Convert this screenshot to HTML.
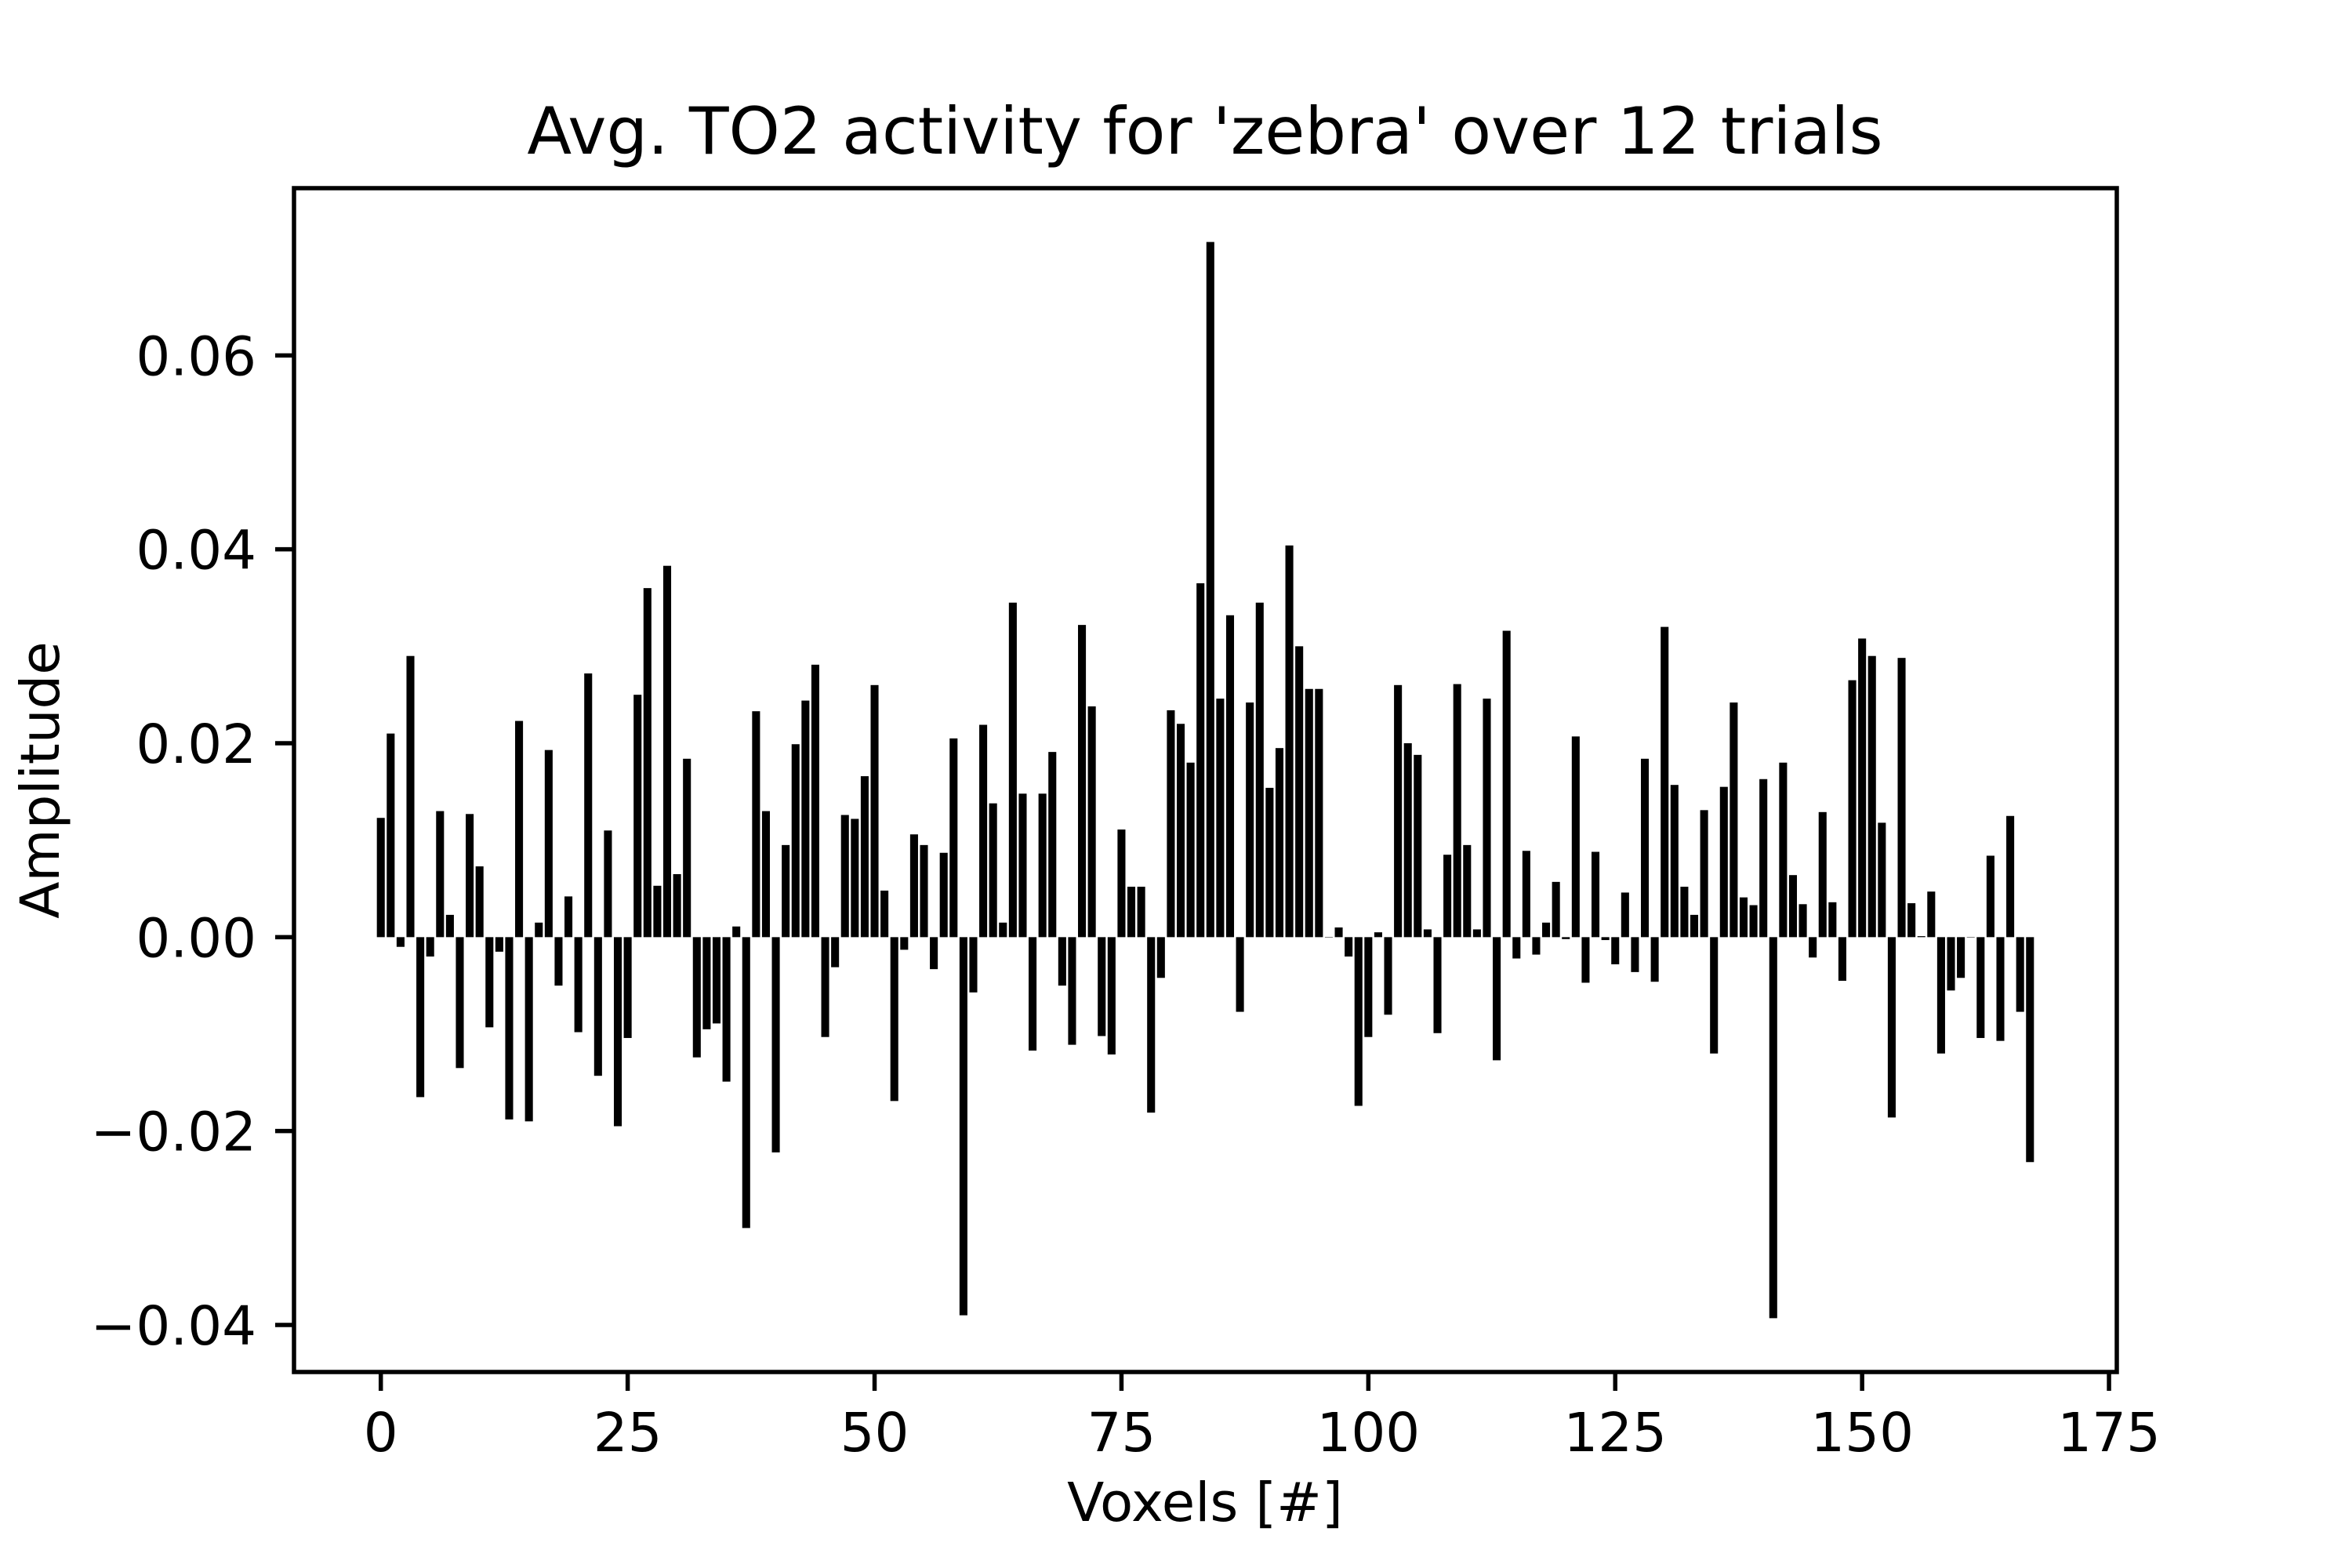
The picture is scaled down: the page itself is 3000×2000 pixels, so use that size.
<!DOCTYPE html>
<html><head><meta charset="utf-8"><style>
html,body{margin:0;padding:0;background:#fff}
svg{display:block}
text{font-family:"DejaVu Sans","Liberation Sans",sans-serif;fill:#000}
</style></head><body>
<svg id="chart" width="3000" height="2000" viewBox="0 0 3000 2000">
<rect width="3000" height="2000" fill="#fff"/>
<text x="1537" y="196" font-size="83" text-anchor="middle">Avg. TO2 activity for 'zebra' over 12 trials</text>
<text x="1537" y="1940" font-size="69" text-anchor="middle">Voxels [#]</text>
<text transform="translate(75,995) rotate(-90)" font-size="69" text-anchor="middle">Amplitude</text>
<g id="bars"></g>
<g id="xticks"></g>
<g id="yticks"></g>
<rect x="375" y="240" width="2325" height="1510" fill="none" stroke="#000" stroke-width="5.5"/>
</svg>
<script>
const values = [0.0123,0.021,-0.001,0.029,-0.0165,-0.002,0.013,0.0023,-0.0135,0.0127,
0.0073,-0.0093,-0.0015,-0.0188,0.0223,-0.019,0.0015,0.0193,-0.005,0.0042,
-0.0098,0.0272,-0.0143,0.011,-0.0195,-0.0104,0.025,0.036,0.0053,0.0383,
0.0065,0.0184,-0.0124,-0.0095,-0.0089,-0.0149,0.0011,-0.030,0.0233,0.013,
-0.0222,0.0095,0.0199,0.0244,0.0281,-0.0103,-0.0031,0.0126,0.0122,0.0166,
0.026,0.0048,-0.0169,-0.0013,0.0106,0.0095,-0.0033,0.0087,0.0205,-0.039,
-0.0057,0.0219,0.0138,0.0015,0.0345,0.0148,-0.0117,0.0148,0.0191,-0.005,
-0.0111,0.0322,0.0238,-0.0102,-0.0121,0.0111,0.0052,0.0052,-0.0181,-0.0042,
0.0234,0.022,0.018,0.0365,0.0717,0.0246,0.0332,-0.0077,0.0242,0.0345,
0.0154,0.0195,0.0404,0.030,0.0256,0.0256,0.0,0.001,-0.002,-0.0174,
-0.0103,0.0005,-0.008,0.026,0.020,0.0188,0.0008,-0.0099,0.0085,0.0261,
0.0095,0.0008,0.0246,-0.0127,0.0316,-0.0022,0.0089,-0.0018,0.0015,0.0057,
-0.0002,0.0207,-0.0047,0.0088,-0.0003,-0.0028,0.0046,-0.0036,0.0184,-0.0046,
0.032,0.0157,0.0052,0.0023,0.0131,-0.012,0.0155,0.0242,0.0041,0.0033,
0.0163,-0.0393,0.018,0.0064,0.0034,-0.0021,0.0129,0.0036,-0.0045,0.0265,
0.0308,0.029,0.0118,-0.0186,0.0288,0.0035,0.0001,0.0047,-0.012,-0.0055,
-0.0042,0.0,-0.0104,0.0084,-0.0107,0.0125,-0.0077,-0.0232];
const xTicks = [0,25,50,75,100,125,150,175];
const yTicks = [-0.04,-0.02,0,0.02,0.04,0.06];
const yTickLabels = ["\u22120.04","\u22120.02","0.00","0.02","0.04","0.06"];

const NS="http://www.w3.org/2000/svg";
const L=375,R=2700,T=240,B=1750;
const n=values.length;
const x0=-0.4,x1=n-1+0.4,xm=(x1-x0)*0.05;
const xmin=x0-xm,xmax=x1+xm;
let ymin=Math.min(0,...values),ymax=Math.max(0,...values);
const ym=(ymax-ymin)*0.05; ymin-=ym; ymax+=ym;
const sx=v=>L+(v-xmin)/(xmax-xmin)*(R-L);
const sy=v=>B-(v-ymin)/(ymax-ymin)*(B-T);
const bars=document.getElementById('bars');
values.forEach((v,i)=>{
  const r=document.createElementNS(NS,'rect');
  const xa=sx(i-0.4),xb=sx(i+0.4);
  const ya=sy(Math.max(v,0)),yb=sy(Math.min(v,0));
  r.setAttribute('x',xa);r.setAttribute('width',xb-xa);
  r.setAttribute('y',ya);r.setAttribute('height',Math.max(yb-ya,0.5));
  r.setAttribute('fill','#000');
  
  
  bars.appendChild(r);
});
const xg=document.getElementById('xticks');
xTicks.forEach(t=>{
  const x=sx(t);
  const l=document.createElementNS(NS,'line');
  l.setAttribute('x1',x);l.setAttribute('x2',x);l.setAttribute('y1',B);l.setAttribute('y2',B+24);
  l.setAttribute('stroke','#000');l.setAttribute('stroke-width','5.5');
  
  
  xg.appendChild(l);
  const tx=document.createElementNS(NS,'text');
  tx.setAttribute('x',x);tx.setAttribute('y',1851);tx.setAttribute('font-size','69');tx.setAttribute('text-anchor','middle');
  tx.textContent=String(t);
  
  
  xg.appendChild(tx);
});
const yg=document.getElementById('yticks');
yTicks.forEach((t,i)=>{
  const y=sy(t);
  const l=document.createElementNS(NS,'line');
  l.setAttribute('x1',L-24);l.setAttribute('x2',L);l.setAttribute('y1',y);l.setAttribute('y2',y);
  l.setAttribute('stroke','#000');l.setAttribute('stroke-width','5.5');
  
  
  yg.appendChild(l);
  const tx=document.createElementNS(NS,'text');
  tx.setAttribute('x',L-48);tx.setAttribute('y',y+25);tx.setAttribute('font-size','69');tx.setAttribute('text-anchor','end');
  tx.textContent=yTickLabels[i];
  
  
  yg.appendChild(tx);
});
</script>
</body></html>
